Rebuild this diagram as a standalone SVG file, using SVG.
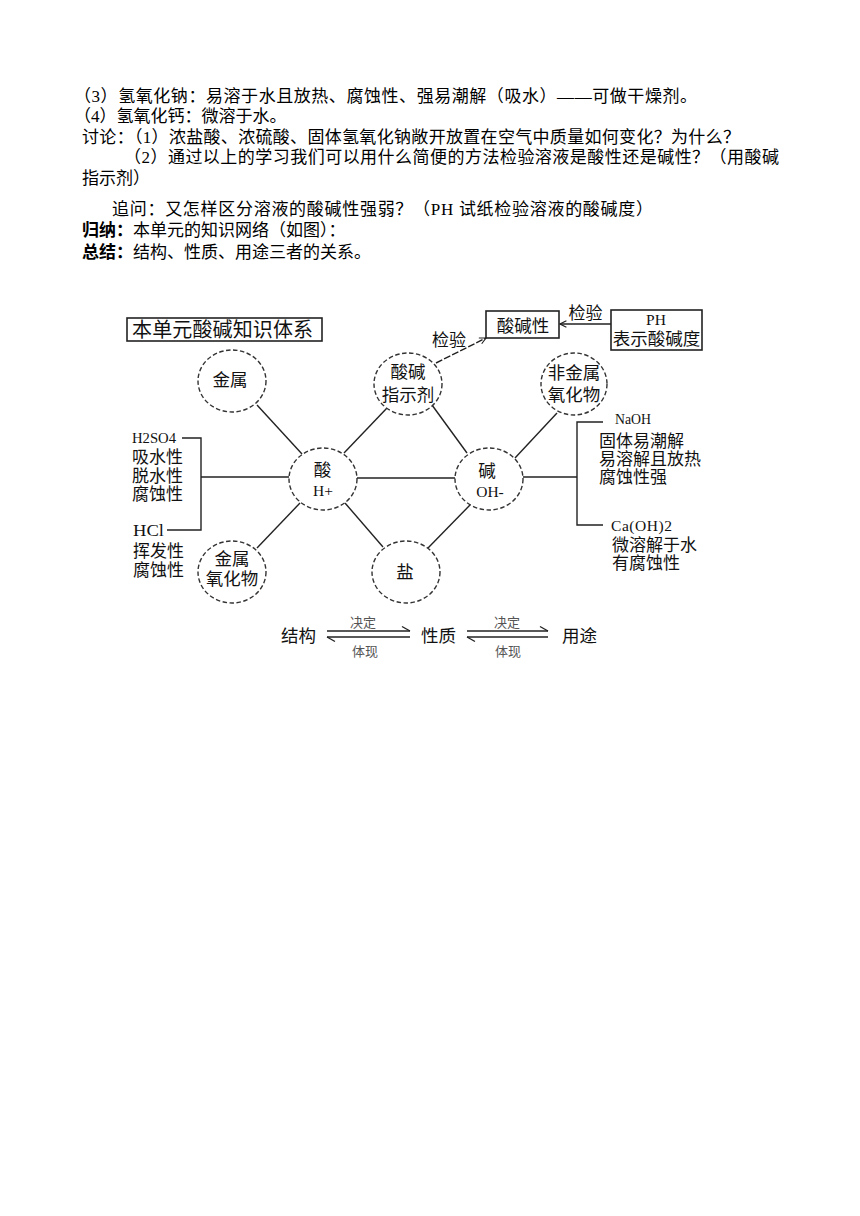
<svg xmlns="http://www.w3.org/2000/svg" width="860" height="1216" viewBox="0 0 860 1216">
<defs>
<style>
.body{font-family:"Liberation Serif","Noto Sans CJK SC",serif;font-size:17px;fill:#000}
.b{font-weight:bold}
.lbl{font-family:"Noto Sans CJK SC","Noto Sans",sans-serif;font-size:17.5px;fill:#111;text-anchor:middle}
.lt{font-family:"Noto Sans CJK SC","Noto Sans",sans-serif;font-size:17px;fill:#111}
.mono{font-family:"Liberation Serif","DejaVu Serif",serif;font-size:15.5px;fill:#111}
.monoc{font-family:"Liberation Serif","DejaVu Serif",serif;font-size:15.5px;fill:#111;text-anchor:middle}
.title{font-family:"Noto Sans CJK SC","Noto Sans",sans-serif;font-size:20px;fill:#111}
.small{font-family:"Noto Sans CJK SC","Noto Sans",sans-serif;font-size:13px;fill:#555;text-anchor:middle}
.node{fill:#fff;stroke:#333;stroke-width:1.4;stroke-dasharray:4.5 2.5}
.box{fill:#fff;stroke:#222;stroke-width:1.6}
.ln{stroke:#222;stroke-width:1.4;fill:none}
</style>
<marker id="open" viewBox="0 0 10 10" refX="9" refY="5" markerWidth="8" markerHeight="8" orient="auto" markerUnits="userSpaceOnUse">
<path d="M1,1 L9,5 L1,9" fill="none" stroke="#222" stroke-width="1.4"/>
</marker>
</defs>
<rect width="860" height="1216" fill="#fff"/>

<g id="paragraph">
<text class="body" x="74" y="102" textLength="623" lengthAdjust="spacing">（3）氢氧化钠：易溶于水且放热、腐蚀性、强易潮解（吸水）——可做干燥剂。</text>
<text class="body" x="74" y="122">（4）氢氧化钙：微溶于水。</text>
<text class="body" x="82" y="142.5" textLength="658" lengthAdjust="spacing">讨论：（1）浓盐酸、浓硫酸、固体氢氧化钠敞开放置在空气中质量如何变化？为什么？</text>
<text class="body" x="124" y="163" textLength="655" lengthAdjust="spacing">（2）通过以上的学习我们可以用什么简便的方法检验溶液是酸性还是碱性？（用酸碱</text>
<text class="body" x="82" y="183.5">指示剂）</text>
<text class="body" x="112" y="214.5" textLength="541" lengthAdjust="spacing">追问：又怎样区分溶液的酸碱性强弱？（PH 试纸检验溶液的酸碱度）</text>
<text class="body" x="82" y="236"><tspan class="b">归纳：</tspan>本单元的知识网络（如图）：</text>
<text class="body" x="82" y="257.5"><tspan class="b">总结：</tspan>结构、性质、用途三者的关系。</text>
</g>

<g id="connectors">
<line class="ln" x1="257" y1="405" x2="302" y2="454"/>
<line class="ln" x1="387" y1="408" x2="344" y2="453"/>
<line class="ln" x1="357" y1="478" x2="455" y2="478"/>
<line class="ln" x1="300" y1="503" x2="257" y2="548"/>
<line class="ln" x1="345" y1="503" x2="383" y2="547"/>
<line class="ln" x1="432" y1="405" x2="467" y2="453"/>
<line class="ln" x1="557" y1="413" x2="515" y2="458"/>
<line class="ln" x1="470" y1="505" x2="428" y2="548"/>
<polyline class="ln" points="182,438 201,438 201,530 167,530"/>
<line class="ln" x1="201" y1="477" x2="289" y2="477"/>
<polyline class="ln" points="603,422 577,422 577,525 603,525"/>
<line class="ln" x1="523" y1="477" x2="577" y2="477"/>
<line class="ln" x1="611" y1="324" x2="560" y2="324" marker-end="url(#open)"/>
<line class="ln" x1="436" y1="363" x2="486" y2="338" stroke-dasharray="7 2" marker-end="url(#open)"/>
<text class="lt" x="585.5" y="319" text-anchor="middle">检验</text>
<text class="lt" x="449" y="346" text-anchor="middle">检验</text>
</g>

<g id="title">
<rect class="box" x="127" y="318" width="195" height="23"/>
<text class="title" x="132" y="337" textLength="181" lengthAdjust="spacing">本单元酸碱知识体系</text>
</g>

<g id="n-acidbase-prop">
<rect class="box" x="486" y="311" width="73" height="27"/>
<text class="lbl" x="523" y="332">酸碱性</text>
</g>

<g id="n-ph">
<rect class="box" x="611" y="310" width="91" height="40"/>
<text class="monoc" x="656" y="324.5">PH</text>
<text class="lbl" x="656.5" y="345">表示酸碱度</text>
</g>

<g id="n-metal">
<ellipse class="node" cx="232" cy="381" rx="34" ry="31"/>
<text class="lbl" x="230" y="386">金属</text>
</g>

<g id="n-indicator">
<ellipse class="node" cx="408" cy="384" rx="34" ry="31"/>
<text class="lbl" x="408" y="378">酸碱</text>
<text class="lbl" x="408" y="401">指示剂</text>
</g>

<g id="n-nonmetal-oxide">
<ellipse class="node" cx="574" cy="384" rx="33" ry="31"/>
<text class="lbl" x="574" y="379">非金属</text>
<text class="lbl" x="574" y="401">氧化物</text>
</g>

<g id="n-acid">
<ellipse class="node" cx="323" cy="479" rx="34" ry="31"/>
<text class="lbl" x="322.5" y="476">酸</text>
<text class="monoc" x="323" y="495.5">H+</text>
</g>

<g id="n-base">
<ellipse class="node" cx="489" cy="479" rx="34" ry="31"/>
<text class="lbl" x="487" y="477">碱</text>
<text class="monoc" x="490" y="496.5">OH-</text>
</g>

<g id="n-metal-oxide">
<ellipse class="node" cx="232" cy="572" rx="34" ry="31"/>
<text class="lbl" x="232" y="564.5">金属</text>
<text class="lbl" x="232" y="584.5">氧化物</text>
</g>

<g id="n-salt">
<ellipse class="node" cx="406" cy="572" rx="34" ry="31"/>
<text class="lbl" x="405" y="578">盐</text>
</g>

<g id="n-h2so4">
<text class="mono" x="132" y="443" textLength="44" lengthAdjust="spacingAndGlyphs">H2SO4</text>
<text class="lt" x="132" y="463">吸水性</text>
<text class="lt" x="132" y="481.5">脱水性</text>
<text class="lt" x="132" y="500">腐蚀性</text>
</g>

<g id="n-hcl">
<text class="mono" x="133" y="536" style="font-size:17px" textLength="31" lengthAdjust="spacingAndGlyphs">HCl</text>
<text class="lt" x="133" y="557">挥发性</text>
<text class="lt" x="133" y="576">腐蚀性</text>
</g>

<g id="n-naoh">
<text class="mono" x="615" y="424" textLength="36" lengthAdjust="spacingAndGlyphs">NaOH</text>
<text class="lt" x="599" y="446.5">固体易潮解</text>
<text class="lt" x="599" y="465">易溶解且放热</text>
<text class="lt" x="599" y="483">腐蚀性强</text>
</g>

<g id="n-caoh2">
<text class="mono" x="611" y="530.5" textLength="61" lengthAdjust="spacing">Ca(OH)2</text>
<text class="lt" x="612" y="551">微溶解于水</text>
<text class="lt" x="612" y="569">有腐蚀性</text>
</g>

<g id="relation">
<text class="lbl" x="298.5" y="642">结构</text>
<line class="ln" x1="327" y1="631" x2="410" y2="631"/>
<line class="ln" x1="402" y1="626.5" x2="410" y2="631"/>
<line class="ln" x1="327" y1="637" x2="410" y2="637"/>
<line class="ln" x1="327" y1="637" x2="335" y2="641.5"/>
<text class="small" x="363" y="627">决定</text>
<text class="small" x="365" y="656">体现</text>
<text class="lbl" x="438.5" y="642">性质</text>
<line class="ln" x1="467" y1="631" x2="548" y2="631"/>
<line class="ln" x1="540" y1="626.5" x2="548" y2="631"/>
<line class="ln" x1="467" y1="637" x2="548" y2="637"/>
<line class="ln" x1="467" y1="637" x2="475" y2="641.5"/>
<text class="small" x="507" y="627">决定</text>
<text class="small" x="508" y="656">体现</text>
<text class="lbl" x="579.5" y="642">用途</text>
</g>
</svg>
